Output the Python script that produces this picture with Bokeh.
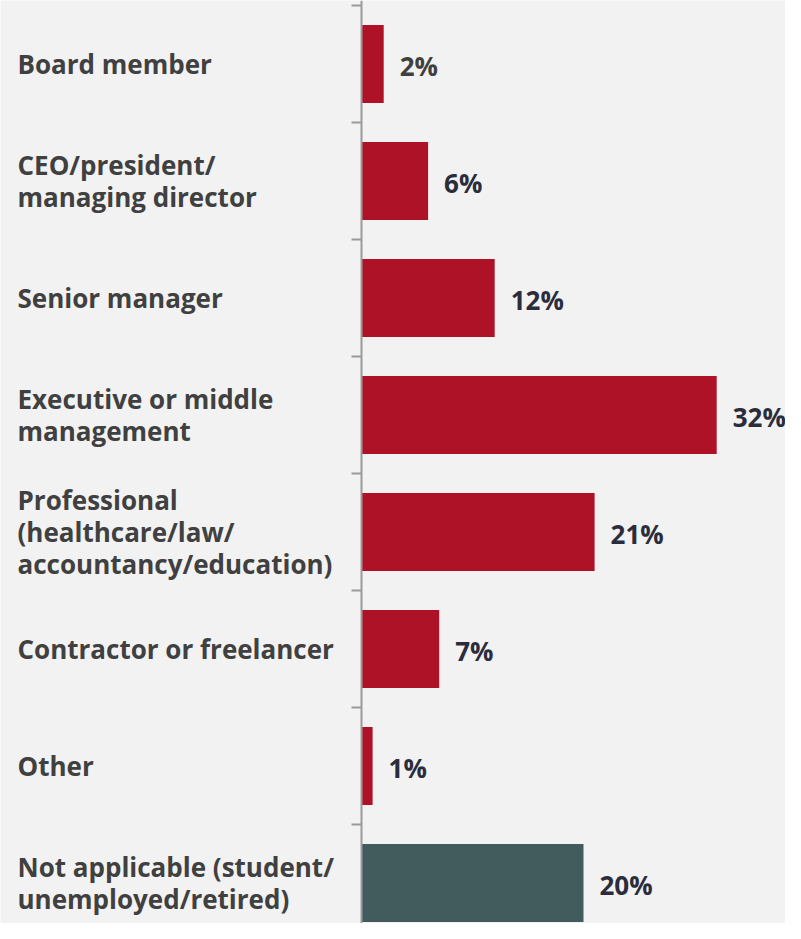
from bokeh.plotting import figure
from bokeh.models import ColumnDataSource, Range1d, Span
from bokeh.core.properties import value
from bokeh.embed import file_html
from bokeh.resources import INLINE

categories = [
    "Board member",
    "CEO/president/\nmanaging director",
    "Senior manager",
    "Executive or middle\nmanagement",
    "Professional\n(healthcare/law/\naccountancy/education)",
    "Contractor or freelancer",
    "Other",
    "Not applicable (student/\nunemployed/retired)",
]
values = [2, 6, 12, 32, 21, 7, 1, 20]
value_labels = ["2%", "6%", "12%", "32%", "21%", "7%", "1%", "20%"]
bar_colors = ["#AE1226"] * 7 + ["#425B5D"]
label_colors = ["#404040"] + ["#2B2C3C"] * 7

W, H = 785, 923
PX_PER_UNIT_X = 11.1
AXIS_X_PX = 361
ROW_PX = 117.0
TOP_PX = 5

x_start = -AXIS_X_PX / PX_PER_UNIT_X
x_end = (W - AXIS_X_PX) / PX_PER_UNIT_X
y_top = -0.5 - TOP_PX / ROW_PX
y_bottom = y_top + H / ROW_PX

pos = list(range(len(categories)))
src = ColumnDataSource(dict(
    y=pos, v=values, cat=categories, lab=value_labels,
    col=bar_colors, lcol=label_colors,
    xl=[x_start] * len(pos),
))

p = figure(width=W, height=H, output_backend="svg", toolbar_location=None,
           x_range=Range1d(x_start, x_end), y_range=Range1d(y_bottom, y_top),
           min_border=0, background_fill_color="#F2F2F2",
           border_fill_color="#F2F2F2", outline_line_color=None)
p.xaxis.visible = False
p.yaxis.visible = False
p.grid.visible = False

p.hbar(y="y", left=0, right="v", height=0.667, fill_color="col",
       line_color=None, source=src)

# axis line and boundary ticks
p.add_layout(Span(location=0, dimension="height", line_color="#9A9A9A", line_width=2))
bounds = [i - 0.5 for i in range(len(categories) + 1)]
tick_len = 10 / PX_PER_UNIT_X
p.segment(x0=[-tick_len] * len(bounds), x1=[0] * len(bounds), y0=bounds, y1=bounds,
          line_color="#9A9A9A", line_width=2)

p.text(x="xl", y="y", text="cat", source=src, x_offset=17, y_offset=0,
       text_font=value("Open Sans"), text_font_style="bold",
       text_font_size="26px", text_color="#404040",
       text_baseline="middle", text_align="left", text_line_height=0.9)

p.text(x="v", y="y", text="lab", source=src, x_offset=16, y_offset=2,
       text_font=value("Open Sans"), text_font_style="bold",
       text_font_size="26px", text_color="lcol",
       text_baseline="middle", text_align="left")

open("out.html", "w").write(file_html(p, INLINE))
